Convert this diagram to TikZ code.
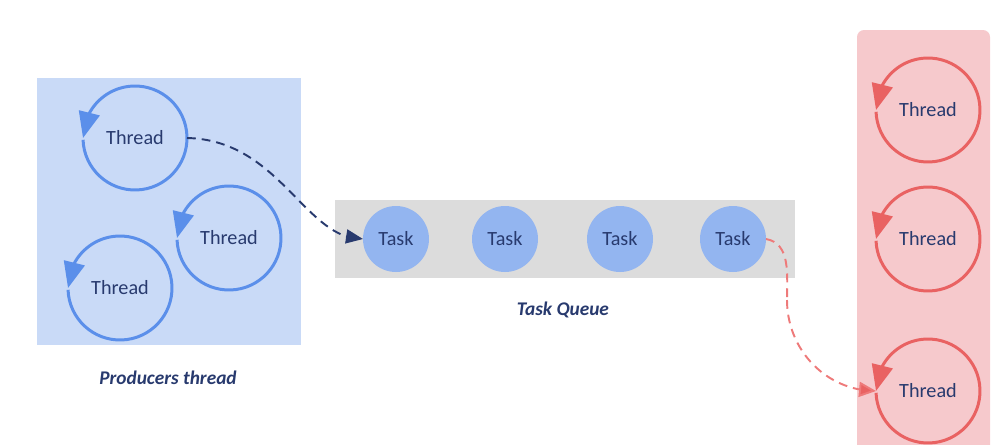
\documentclass[tikz,border=0pt]{standalone}
\usepackage{fontspec}
\setmainfont{Carlito}
\usetikzlibrary{arrows.meta,bending}
\definecolor{prodfill}{RGB}{201,218,247}
\definecolor{loopblue}{RGB}{91,143,234}
\definecolor{queuegrey}{RGB}{220,220,220}
\definecolor{taskfill}{RGB}{147,181,240}
\definecolor{navy}{RGB}{40,58,110}
\definecolor{consfill}{RGB}{246,201,204}
\definecolor{loopred}{RGB}{233,98,98}
\definecolor{dashred}{RGB}{238,122,122}
\begin{document}
\begin{tikzpicture}[
    x=0.02cm, y=0.02cm,
    thr/.style     = {circle, minimum size=2.08cm, inner sep=0pt, outer sep=0pt,
                      font=\fontsize{11.5}{13}\selectfont, text=navy},
    task/.style    = {circle, fill=taskfill, minimum size=1.32cm, inner sep=0pt,
                      outer sep=0pt, font=\fontsize{11.5}{13}\selectfont, text=navy},
    bluelp/.style  = {draw=loopblue, line width=1.7pt,
                      -{Triangle[length=0.52cm, width=0.42cm, flex]}},
    redlp/.style   = {draw=loopred, line width=1.7pt,
                      -{Triangle[length=0.52cm, width=0.42cm, flex]}},
    lbl/.style     = {font=\fontsize{11}{13}\selectfont\bfseries\itshape, text=navy},
    dashlink/.style= {line width=1.1pt, dash pattern=on 5pt off 3.4pt}
]
\useasboundingbox (0,0) rectangle (1000,-444);
% backgrounds
\fill[prodfill] (37,-78) rectangle (301,-345);
\fill[queuegrey] (335,-200) rectangle (795,-278);
\fill[consfill, rounded corners=4pt] (857,-30) rectangle (990,-460);
% producers
\node[thr] (p1) at (135,-138) {Thread};
\node[thr] (p2) at (229,-238) {Thread};
\node[thr] (p3) at (120,-288) {Thread};
\foreach \n in {p1,p2,p3}
  \draw[bluelp] (\n.182) arc[start angle=182, end angle=540, radius=1.04cm];
% queue
\node[task] (t1) at (396,-239) {Task};
\node[task] (t2) at (505,-239) {Task};
\node[task] (t3) at (620,-239) {Task};
\node[task] (t4) at (733,-239) {Task};
% consumers
\node[thr] (c1) at (928,-110) {Thread};
\node[thr] (c2) at (928,-239) {Thread};
\node[thr] (c3) at (928,-391) {Thread};
\foreach \n in {c1,c2,c3}
  \draw[redlp] (\n.182) arc[start angle=182, end angle=540, radius=1.04cm];
% labels
\node[lbl] (plbl) at (168,-378) {Producers thread};
\node[lbl] (qlbl) at (563,-310) {Task Queue};
% links
\coordinate (bend) at (787,-300);
\draw[dashlink, navy, -{Triangle[length=0.34cm, width=0.28cm]}]
  (p1.east) .. controls (280,-140) and (305,-240) .. (t1.west);
\draw[dashlink, dashred] (t4.east) to[out=-10, in=90] (bend);
\draw[dashlink, dashred, -{Triangle[length=0.34cm, width=0.3cm, fill=loopred]}]
  (bend) to[out=-90, in=180] (c3.west);
\end{tikzpicture}
\end{document}
